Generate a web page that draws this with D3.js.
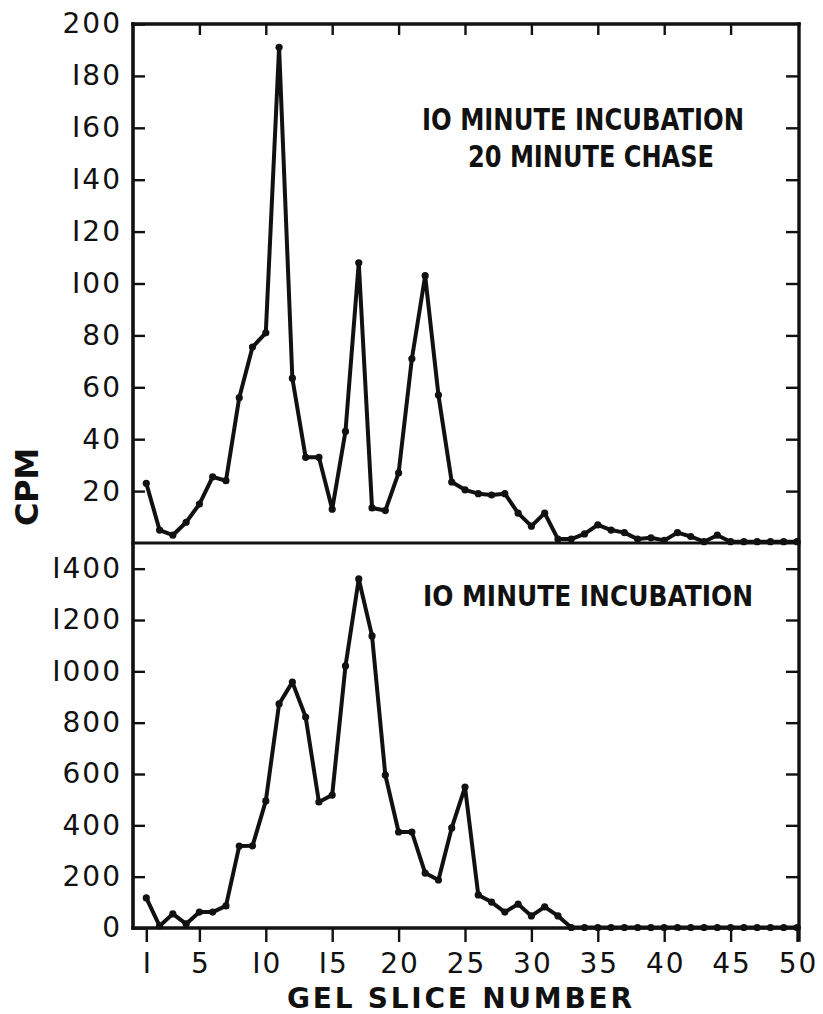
<!DOCTYPE html>
<html>
<head>
<meta charset="utf-8">
<script src="https://cdn.jsdelivr.net/npm/d3@7"></script>
<style>
  html, body { margin: 0; padding: 0; background: #fff; }
  svg { display: block; }
  .tick text { font-family: "DejaVu Sans", sans-serif; font-size: 28px; fill: #111; letter-spacing: 2px; }
  .lbl { font-family: "DejaVu Sans", sans-serif; font-weight: bold; fill: #111; }
</style>
</head>
<body>
<svg id="chart" width="823" height="1014"></svg>
<script>
// Gel slice numbers 1..50
const slices = d3.range(1, 51);

// CPM per slice, 10 minute incubation + 20 minute chase
const chaseCpm = [23, 5, 3, 8, 15, 25.5, 24, 56, 75.5, 81,
  191, 63.5, 33, 33, 13, 43, 108, 13.5, 12.5, 27,
  71, 103, 57, 23.5, 20.5, 19, 18.5, 19, 11.5, 6.5,
  11.5, 1.5, 1.5, 3.5, 7, 5, 4, 1.5, 2, 1,
  4, 2.5, 0.5, 3, 0.5, 0.5, 0.5, 0.5, 0.5, 0.5];

// CPM per slice, 10 minute incubation
const pulseCpm = [117, 8, 55, 16, 62, 62, 86, 319, 320, 495,
  873, 958, 822, 491, 518, 1021, 1360, 1138, 596, 374,
  374, 214, 187, 390, 549, 129, 101, 62, 93, 47,
  82, 47, 2, 2, 2, 2, 2, 2, 2, 2,
  2, 2, 2, 2, 2, 2, 2, 2, 2, 2];

const chaseTicks = [20, 40, 60, 80, 100, 120, 140, 160, 180, 200];
const pulseTicks = [0, 200, 400, 600, 800, 1000, 1200, 1400];
const xTicks = [1, 5, 10, 15, 20, 25, 30, 35, 40, 45, 50];
const topTicks = [5, 10, 15, 20, 25, 30, 35, 40, 45];

const chaseTitle = ["IO MINUTE INCUBATION", "20 MINUTE CHASE"];
const pulseTitle = "IO MINUTE INCUBATION";
const xTitle = "GEL SLICE NUMBER";
const yTitle = "CPM";

const svg = d3.select("#chart");
const pLeft = 133, pRight = 799, pTop = 24, pMid = 543, pBottom = 928;

const x = d3.scaleLinear().domain([0, 50]).range([pLeft, 797]);
const yTop = d3.scaleLinear().domain([0, 200]).range([pMid, pTop]);
const yBot = d3.scaleLinear().domain([0, 1500]).range([pBottom, pMid]);

const fmt = d => String(d).replace(/1/g, "I");

// left axes (ticks pointing inward)
function leftAxis(scale, ticks) {
  const g = svg.append("g").attr("transform", `translate(${pLeft},0)`)
    .call(d3.axisLeft(scale).tickValues(ticks).tickSize(-12).tickPadding(11).tickFormat(fmt));
  g.select(".domain").remove();
  g.selectAll(".tick line").attr("stroke", "#111").attr("stroke-width", 2.4);
  return g;
}
leftAxis(yTop, chaseTicks);
leftAxis(yBot, pulseTicks);

// right axes (inward ticks, no labels)
function rightAxis(scale, ticks) {
  const g = svg.append("g").attr("transform", `translate(${pRight},0)`)
    .call(d3.axisRight(scale).tickValues(ticks).tickSize(-13).tickFormat(""));
  g.select(".domain").remove();
  g.selectAll(".tick line").attr("stroke", "#111").attr("stroke-width", 2.4);
}
rightAxis(yTop, chaseTicks.filter(d => d < 200));
rightAxis(yBot, pulseTicks.filter(d => d > 0));

// top border ticks
const gt = svg.append("g").attr("transform", `translate(0,${pTop})`)
  .call(d3.axisTop(x).tickValues(topTicks).tickSize(-11).tickFormat(""));
gt.select(".domain").remove();
gt.selectAll(".tick line").attr("stroke", "#111").attr("stroke-width", 2.4);

// bottom axis
const gb = svg.append("g").attr("transform", `translate(0,${pBottom})`)
  .call(d3.axisBottom(x).tickValues(xTicks).tickSize(14).tickFormat(fmt));
gb.select(".domain").remove();
gb.selectAll(".tick line").attr("stroke", "#111").attr("stroke-width", 2.4);
gb.selectAll(".tick text").attr("y", 45).attr("dy", null).attr("dx", "1px");

// frame: left, right, top, divider, bottom
const frame = svg.append("g").attr("stroke", "#111").attr("stroke-linecap", "square");
frame.append("line").attr("x1", pLeft).attr("x2", pLeft).attr("y1", pTop).attr("y2", pBottom).attr("stroke-width", 3.6);
frame.append("line").attr("x1", pRight).attr("x2", pRight).attr("y1", pTop).attr("y2", pBottom + 12).attr("stroke-width", 3.4);
frame.append("line").attr("x1", pLeft).attr("x2", pRight).attr("y1", pTop).attr("y2", pTop).attr("stroke-width", 3.4);
frame.append("line").attr("x1", pLeft).attr("x2", pRight).attr("y1", pMid).attr("y2", pMid).attr("stroke-width", 3.2);
frame.append("line").attr("x1", pLeft).attr("x2", pRight).attr("y1", pBottom).attr("y2", pBottom).attr("stroke-width", 3.4);

// profiles
function profile(values, yScale) {
  const pts = slices.map((s, i) => [s, values[i]]);
  svg.append("path").datum(pts)
    .attr("fill", "none").attr("stroke", "#111").attr("stroke-width", 4)
    .attr("stroke-linejoin", "round")
    .attr("d", d3.line().x(d => x(d[0])).y(d => yScale(d[1])));
  svg.append("g").selectAll("circle").data(pts).join("circle")
    .attr("cx", d => x(d[0])).attr("cy", d => yScale(d[1])).attr("r", 3.6).attr("fill", "#111");
}
profile(chaseCpm, yTop);
profile(pulseCpm, yBot);

// panel titles
svg.append("text").attr("class", "lbl").attr("x", 422).attr("y", 130)
  .attr("font-size", 30).attr("textLength", 322).attr("lengthAdjust", "spacingAndGlyphs").text(chaseTitle[0]);
svg.append("text").attr("class", "lbl").attr("x", 468).attr("y", 167)
  .attr("font-size", 30).attr("textLength", 246).attr("lengthAdjust", "spacingAndGlyphs").text(chaseTitle[1]);
svg.append("text").attr("class", "lbl").attr("x", 423).attr("y", 606)
  .attr("font-size", 28).attr("textLength", 330).attr("lengthAdjust", "spacingAndGlyphs").text(pulseTitle);

// axis titles
svg.append("text").attr("class", "lbl").attr("x", 287).attr("y", 1008)
  .attr("font-size", 28).attr("textLength", 345).attr("lengthAdjust", "spacing").text(xTitle);
svg.append("text").attr("class", "lbl")
  .attr("transform", "translate(38,487) rotate(-90)").attr("text-anchor", "middle")
  .attr("font-size", 32).attr("textLength", 78).attr("lengthAdjust", "spacing").text(yTitle);
</script>
</body>
</html>
